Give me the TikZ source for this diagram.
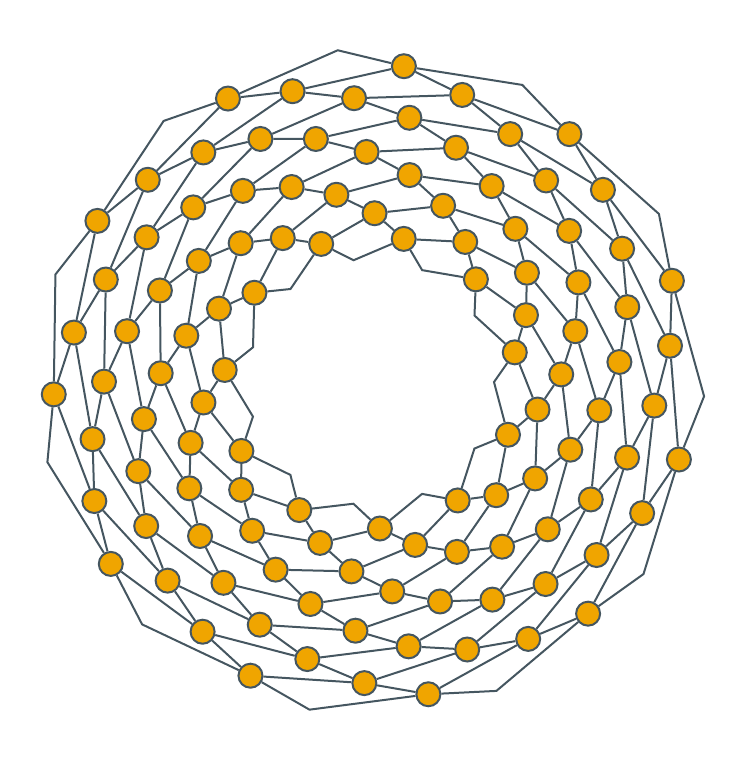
\documentclass[tikz,border=0pt]{standalone}
\pgfdeclarelayer{bg}
\pgfsetlayers{bg,main}
\definecolor{nodefill}{RGB}{240,165,0}
\definecolor{edgecol}{RGB}{69,86,96}
\begin{document}
\begin{tikzpicture}[x=1pt,y=1pt,
  vert/.style={circle,draw=edgecol,fill=nodefill,line width=2pt,minimum size=24pt,inner sep=0pt},
  link/.style={draw=edgecol,line width=2pt}]
\useasboundingbox (0,0) rectangle (751,761);
\begin{scope}[shift={(371,379)}]
  % rings of nodes
  \foreach \k/\r in {0/317.5,1/301.2,2/284.3,3/267.0,4/249.2,5/230.1,6/210.5,7/190.4,8/168.8,9/146.8}{
    \foreach \j in {0,...,10}{
      \pgfmathsetmacro\a{84.05-11.68*\k+32.7273*\j}
      \node[vert] (n\k-\j) at (\a:\r) {};
    }
  }
  % bend points of the outer and inner rims
  \foreach \j in {0,...,10}{
    \pgfmathsetmacro\ao{84.05+11.68+32.7273*\j}
    \pgfmathsetmacro\ai{84.05-116.8+32.7273*\j}
    \coordinate (o\j) at (\ao:333.4);
    \coordinate (i\j) at (\ai:123.0);
  }
  \begin{pgfonlayer}{bg}
    \foreach \k in {0,...,8}{
      \pgfmathtruncatemacro\kk{\k+1}
      \foreach \j in {0,...,10}{
        \pgfmathtruncatemacro\jj{mod(\j+1,11)}
        \draw[link] (n\k-\j) -- (n\kk-\j);
        \draw[link] (n\k-\j) -- (n\kk-\jj);
      }
    }
    \foreach \j in {0,...,10}{
      \pgfmathtruncatemacro\jj{mod(\j+1,11)}
      \pgfmathtruncatemacro\jm{mod(\j+10,11)}
      \draw[link] (n0-\j) -- (o\j) -- (n0-\jj);
      \draw[link] (n9-\jm) -- (i\j) -- (n9-\j);
    }
  \end{pgfonlayer}
\end{scope}
\end{tikzpicture}
\end{document}
